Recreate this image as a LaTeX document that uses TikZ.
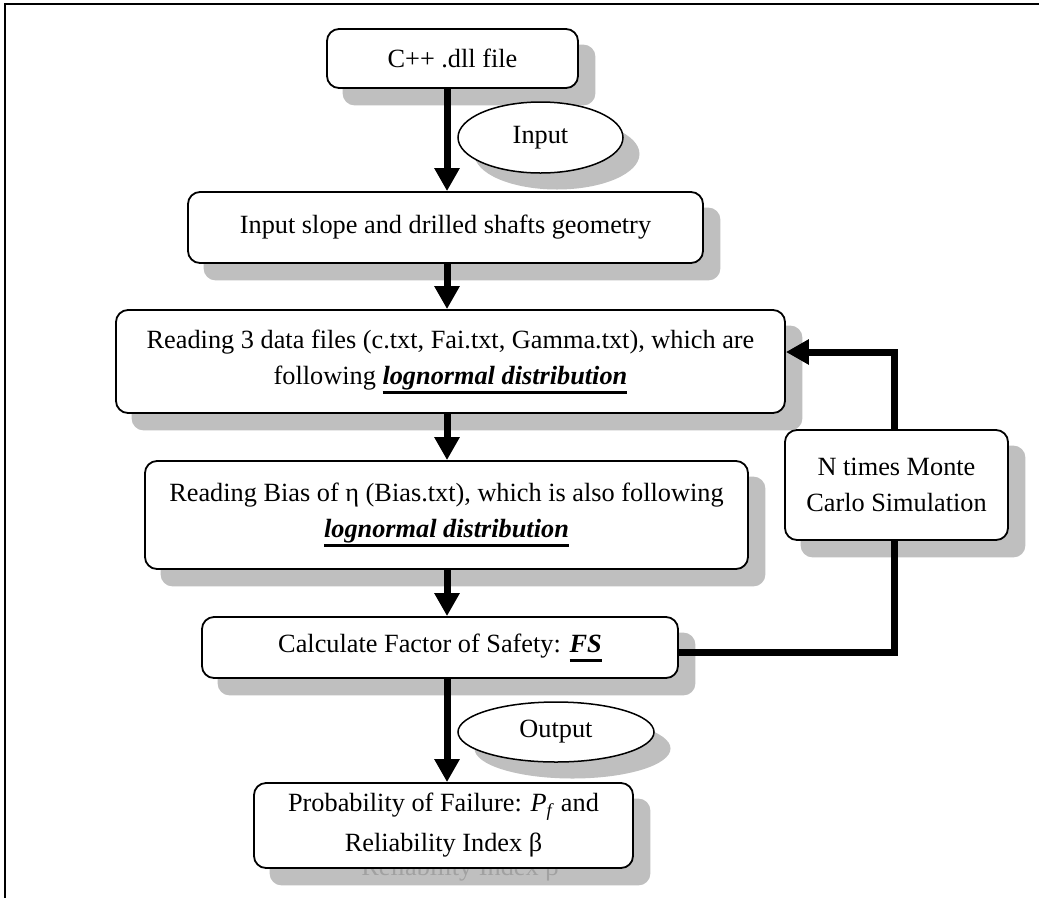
\documentclass[tikz,border=0pt]{standalone}
\usepackage{fontspec}
\setmainfont{Liberation Serif}
\usetikzlibrary{arrows.meta,shapes.geometric}
\pgfdeclarelayer{shade}
\pgfdeclarelayer{front}
\pgfsetlayers{main,shade,front}
% thick underline used for the emphasised terms
\newcommand\thickul[1]{\setbox0=\hbox{#1}\rlap{\rule[-9.5pt]{\wd0}{3pt}}\box0}
\newcommand\keyword[1]{\thickul{\textbf{\textit{#1}}}}
\begin{document}
\begin{tikzpicture}[x=1pt,y=-1pt,
  every node/.style={font=\fontsize{26.3}{36}\selectfont},
  roundbox/.style={draw, line width=1.8pt, rounded corners=12pt, fill=white,
                   inner sep=0pt, align=center},
  ovalnode/.style={draw, ellipse, line width=1.5pt, fill=white, inner sep=0pt},
  flowarrow/.style={line width=7pt, line join=miter,
                    -{Triangle[length=23pt,width=24pt]}},
  backline/.style={line width=7pt, line join=miter},
  shadowfill/.style={fill=black, fill opacity=0.25},
]
\useasboundingbox (0,0) rectangle (1039,898);

% outer frame (top and left edges)
\draw[line width=2.5pt] (1039,4) -- (5,4) -- (5,898);

% main column and feedback guides
\coordinate (ax) at (447,0);
\coordinate (up) at (894,352);
\coordinate (lowy) at (0,652);

\begin{pgfonlayer}{front}
\node[roundbox, minimum width=251, minimum height=59] (b1) at (452.5,58.5) {C++ .dll file};
\node[ovalnode, minimum width=165, minimum height=71] (inp) at (540.5,137.5) {Input};
\node[roundbox, minimum width=515, minimum height=71] (b2) at (445.5,227.5)
  {Input slope and drilled shafts geometry};
\node[roundbox, minimum width=669, minimum height=103] (b3) at (450.5,361.5)
  {Reading 3 data files (c.txt, Fai.txt, Gamma.txt), which are\\
   following \keyword{lognormal distribution}};
\node[roundbox, minimum width=603, minimum height=108] (b4) at (446.5,515)
  {Reading Bias of η (Bias.txt), which is also following\\
   \keyword{lognormal distribution}};
\node[roundbox, minimum width=476, minimum height=61] (b5) at (440,647.5)
  {Calculate Factor of Safety: \keyword{FS}};
\node[ovalnode, minimum width=196, minimum height=60] (outp) at (556,732) {Output};
\node[roundbox, minimum width=379, minimum height=85,
      font=\fontsize{26.3}{40}\selectfont] (b7) at (443.5,825.5)
  {\raisebox{0pt}[0pt][0pt]{}Probability of Failure: \textit{P}\textsubscript{\textit{f}} and\\
   Reliability Index β};
\node[roundbox, minimum width=223, minimum height=110] (mc) at (896.5,485)
  {N times Monte\\ Carlo Simulation};
\end{pgfonlayer}

\begin{pgfonlayer}{shade}
\foreach \n in {b1,b2,b3,b4,b5,b7,mc}
  \fill[shadowfill, rounded corners=12pt]
    ([shift={(16.5,16.5)}]\n.south west) rectangle ([shift={(16.5,16.5)}]\n.north east);
\fill[shadowfill] ([shift={(16.5,16.5)}]inp.center) ellipse [x radius=82.5, y radius=35.5];
\fill[shadowfill] ([shift={(16.5,16.5)}]outp.center) ellipse [x radius=98, y radius=30];
% shadowed copy of the last line, showing below the final box
\node[text=black!37, anchor=base, inner sep=0pt] (b7ghost)
  at ([shift={(16.5,50)}]b7.center) {Reliability Index β};
\end{pgfonlayer}

% main flow
\draw[flowarrow] (b1.south -| ax) -- (b2.north -| ax);
\draw[flowarrow] (b2.south -| ax) -- (b3.north -| ax);
\draw[flowarrow] (b3.south -| ax) -- (b4.north -| ax);
\draw[flowarrow] (b4.south -| ax) -- (b5.north -| ax);
\draw[flowarrow] (b5.south -| ax) -- (b7.north -| ax);

% Monte Carlo loop
\draw[backline] (b5.east |- lowy) -| (mc.south -| up);
\draw[flowarrow] (mc.north -| up) |- (b3.east |- up);
\end{tikzpicture}
\end{document}
